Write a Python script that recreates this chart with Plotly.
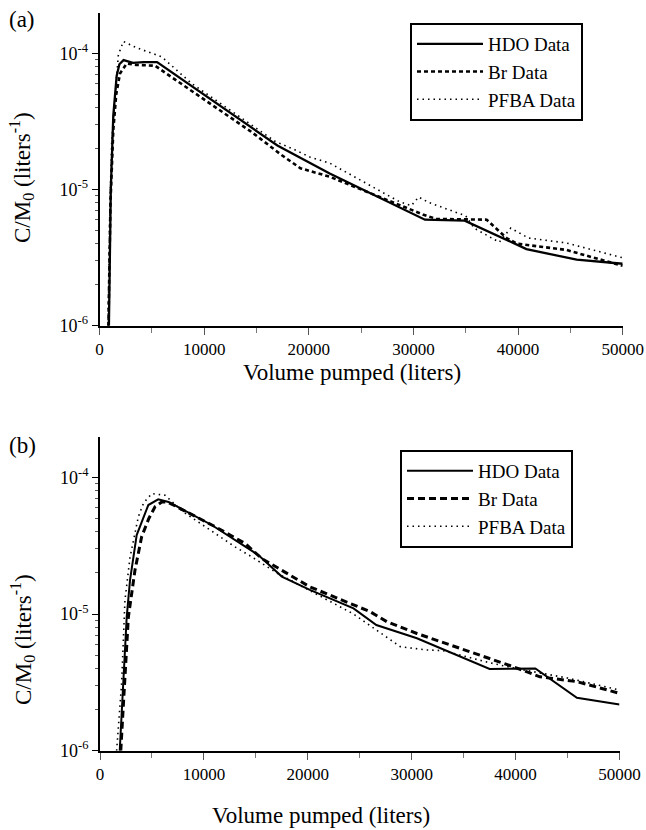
import plotly.graph_objects as go

# ---------------- data: panel (a) ----------------
hdo_a_x = [900, 1080, 1320, 1640, 1900, 2300, 3200, 4200, 5500, 17000, 22000, 28700, 31100, 34900, 40800, 45600, 50000]
hdo_a_y = [1.0e-6, 1.0e-5, 3.5e-5, 6.8e-5, 8.3e-5, 8.9e-5, 8.5e-5, 8.6e-5, 8.6e-5, 2.1e-5, 1.31e-5, 7.3e-6, 6.0e-6, 5.9e-6, 3.65e-6, 3.05e-6, 2.85e-6]

br_a_x = [850, 1050, 1320, 1600, 1960, 2600, 3500, 5300, 9100, 14500, 17400, 19200, 22000, 28700, 30900, 32200, 37000, 38900, 39900, 44600, 46900, 50000]
br_a_y = [1.0e-6, 8.0e-6, 2.74e-5, 5.0e-5, 7.1e-5, 8.4e-5, 8.2e-5, 8.1e-5, 5.1e-5, 2.65e-5, 1.79e-5, 1.43e-5, 1.24e-5, 7.7e-6, 6.55e-6, 6.07e-6, 6.0e-6, 4.4e-6, 4.0e-6, 3.6e-6, 3.2e-6, 2.75e-6]

pfba_a_x = [820, 1000, 1170, 1480, 1800, 2275, 3500, 5000, 5950, 8800, 16800, 18700, 20100, 22000, 28700, 29800, 30500, 31500, 35000, 35800, 38200, 39300, 41000, 44600, 50000]
pfba_a_y = [1.0e-6, 8.0e-6, 2.3e-5, 4.5e-5, 9.7e-5, 1.22e-4, 1.1e-4, 1.0e-4, 9.4e-5, 6.0e-5, 2.25e-5, 1.95e-5, 1.73e-5, 1.56e-5, 8.1e-6, 7.6e-6, 8.8e-6, 8.0e-6, 6.4e-6, 5.2e-6, 4.1e-6, 5.2e-6, 4.4e-6, 4.05e-6, 3.15e-6]

# ---------------- data: panel (b) ----------------
hdo_b_x = [1900, 2400, 2570, 2890, 3530, 4650, 5600, 6600, 10750, 15240, 17500, 20200, 24400, 26600, 30500, 37500, 41900, 45900, 50000]
hdo_b_y = [1.0e-6, 6.1e-6, 9.5e-6, 1.77e-5, 3.78e-5, 6.27e-5, 6.9e-5, 6.6e-5, 4.48e-5, 2.7e-5, 1.88e-5, 1.5e-5, 1.1e-5, 8.3e-6, 6.65e-6, 3.96e-6, 4.0e-6, 2.44e-6, 2.18e-6]

br_b_x = [2000, 2500, 2730, 3370, 4010, 4700, 5300, 5940, 6500, 11070, 13950, 15560, 17500, 20200, 26000, 27600, 30500, 37500, 39800, 42350, 45900, 50000]
br_b_y = [1.0e-6, 5.0e-6, 9.5e-6, 2.1e-5, 3.68e-5, 5.0e-5, 6.1e-5, 6.6e-5, 6.6e-5, 4.36e-5, 3.29e-5, 2.55e-5, 2.1e-5, 1.58e-5, 1.04e-5, 8.8e-6, 7.2e-6, 4.74e-6, 4.11e-6, 3.47e-6, 3.2e-6, 2.63e-6]

pfba_b_x = [1600, 2080, 2400, 2890, 3690, 4200, 4980, 6260, 8000, 13000, 14600, 17000, 22460, 24400, 26600, 28900, 31400, 33000, 37500, 40000, 45000, 50000]
pfba_b_y = [1.0e-6, 3.1e-6, 1.26e-5, 2.6e-5, 5.15e-5, 6.5e-5, 7.6e-5, 7.4e-5, 5.6e-5, 3.1e-5, 2.62e-5, 2.0e-5, 1.2e-5, 1.0e-5, 7.64e-6, 5.77e-6, 5.46e-6, 5.4e-6, 4.4e-6, 4.0e-6, 3.4e-6, 2.78e-6]

series_names = ["HDO Data", "Br Data", "PFBA Data"]
x_tick_vals = [0, 10000, 20000, 30000, 40000, 50000]
y_tick_vals = [1e-6, 1e-5, 1e-4]
y_tick_text = ["10<sup>-6</sup>", "10<sup>-5</sup>", "10<sup>-4</sup>"]

FONT = "Liberation Serif"
W, H = 646, 830

fig = go.Figure()

def add(x, y, name, dash, width, xa, ya, leg):
    fig.add_trace(go.Scatter(
        x=x, y=y, mode="lines", name=name,
        line=dict(color="black", width=width, dash=dash),
        xaxis=xa, yaxis=ya, legend=leg,
    ))

add(hdo_a_x, hdo_a_y, series_names[0], "solid", 2.3, "x", "y", "legend")
add(br_a_x, br_a_y, series_names[1], "4px,3px", 2.6, "x", "y", "legend")
add(pfba_a_x, pfba_a_y, series_names[2], "1.5px,4px", 1.6, "x", "y", "legend")

add(hdo_b_x, hdo_b_y, series_names[0], "solid", 2.0, "x2", "y2", "legend2")
add(br_b_x, br_b_y, series_names[1], "7px,4px", 3.0, "x2", "y2", "legend2")
add(pfba_b_x, pfba_b_y, series_names[2], "1.5px,4px", 1.6, "x2", "y2", "legend2")

minor_y = [k * 10.0 ** e for e in (-6, -5, -4) for k in range(2, 10)]

def xaxis_cfg(domain, anchor):
    return dict(
        domain=domain, anchor=anchor, range=[0, 50000],
        tickvals=x_tick_vals, tickformat="d",
        showline=True, linecolor="black", linewidth=1.6,
        ticks="outside", ticklen=7, tickwidth=1, tickcolor="#555",
        minor=dict(dtick=5000, tick0=0, ticks="outside", ticklen=5, tickwidth=1, tickcolor="#777"),
        showgrid=False, zeroline=False,
        tickfont=dict(family=FONT, size=17, color="black"),
        automargin=False,
    )

def yaxis_cfg(domain, anchor):
    return dict(
        domain=domain, anchor=anchor, type="log", range=[-6, -3.705],
        tickvals=y_tick_vals, ticktext=y_tick_text,
        showline=True, linecolor="black", linewidth=1.6,
        ticks="outside", ticklen=6, tickwidth=1.2, tickcolor="black",
        minor=dict(tickvals=minor_y, ticks="outside", ticklen=3, tickwidth=1, tickcolor="#555"),
        showgrid=False, zeroline=False,
        tickfont=dict(family=FONT, size=18, color="black"),
        automargin=False,
    )

legend_style = dict(
    xanchor="left", yanchor="top",
    bordercolor="black", borderwidth=2, bgcolor="white",
    font=dict(family=FONT, size=19, color="black"),
    itemwidth=66, tracegroupgap=0,
)

fig.update_layout(
    width=W, height=H,
    margin=dict(l=0, r=0, t=0, b=0),
    paper_bgcolor="white", plot_bgcolor="white",
    font=dict(family=FONT, color="black"),
    xaxis=xaxis_cfg([99.5 / W, 622.7 / W], "y"),
    yaxis=yaxis_cfg([1 - 325.7 / H, 1 - 13 / H], "x"),
    xaxis2=xaxis_cfg([100 / W, 619.5 / W], "y2"),
    yaxis2=yaxis_cfg([1 - 750.7 / H, 1 - 437 / H], "x2"),
    legend=dict(x=410 / W, y=1 - 23 / H, **legend_style),
    legend2=dict(x=400 / W, y=1 - 450 / H, **legend_style),
    showlegend=True,
)

def ann(text, x, y, size, angle=0, xanchor="center"):
    fig.add_annotation(
        text=text, x=x / W, y=1 - y / H, xref="paper", yref="paper",
        showarrow=False, textangle=angle, xanchor=xanchor, yanchor="middle",
        font=dict(family=FONT, size=size, color="black"),
    )

ann("(a)", 7, 19, 23, xanchor="left")
ann("(b)", 7, 445, 23, xanchor="left")
ann("Volume pumped (liters)", 352, 372, 23)
ann("Volume pumped (liters)", 321, 815, 23)
ann("C/M<sub>0</sub> (liters<sup>-1</sup>)", 22, 178, 23, angle=-90)
ann("C/M<sub>0</sub> (liters<sup>-1</sup>)", 22, 640, 23, angle=-90)

fig.write_html(
    "out.html",
    config={"displayModeBar": False},
    post_script="document.body.style.margin='0';document.body.style.padding='0';",
)
